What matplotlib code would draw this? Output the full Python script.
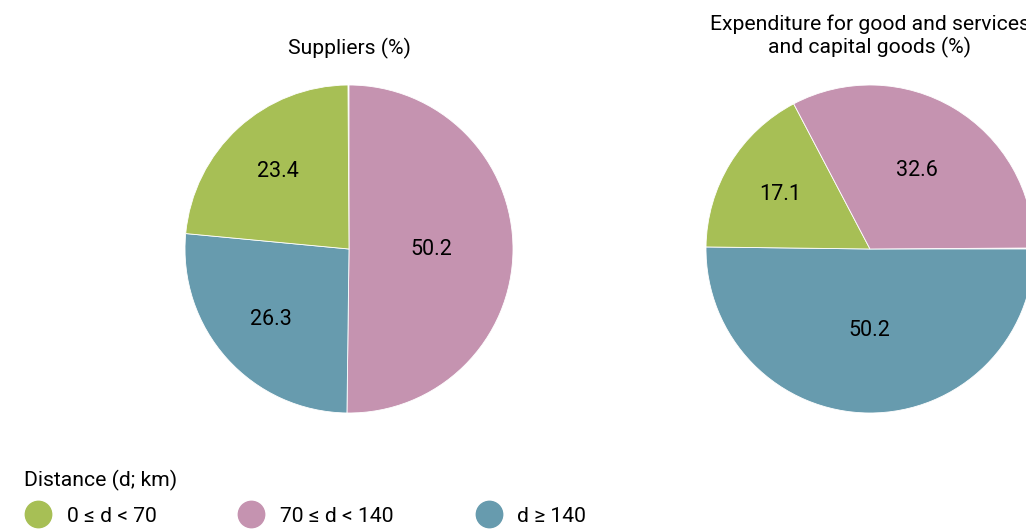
import matplotlib
matplotlib.use("Agg")
import numpy as np
import matplotlib.pyplot as plt
from matplotlib.lines import Line2D

plt.rcParams['font.family'] = ['Roboto', 'DejaVu Sans']

# data
categories = ['0 ≤ d < 70', '70 ≤ d < 140', 'd ≥ 140']
colors = ['#a7bf55', '#c593b0', '#679bae']
suppliers = [23.4, 50.2, 26.3]
expenditure = [17.1, 32.6, 50.2]
titles = ['Suppliers (%)', 'Expenditure for good and services\nand capital goods (%)']
legend_title = 'Distance (d; km)'

W, H = 1026, 530
fig = plt.figure(figsize=(W / 100, H / 100), dpi=100)
R = 164


def draw_pie(cx, cy, values, order, startangle):
    ax = fig.add_axes([(cx - R) / W, (H - cy - R) / H, 2 * R / W, 2 * R / H])
    vals = [values[i] for i in order]
    wedges, _ = ax.pie([v / 100 for v in vals], colors=[colors[i] for i in order],
                       startangle=startangle, counterclock=False, normalize=False,
                       wedgeprops=dict(edgecolor='white', linewidth=0.6))
    # value labels: smaller slices get their label further out
    for w, v in zip(wedges, vals):
        mid = np.deg2rad((w.theta1 + w.theta2) / 2)
        d = 0.64 if v < 30 else (0.56 if v < 45 else 0.5)
        ax.text(d * np.cos(mid), d * np.sin(mid), f'{v:.1f}', ha='center', va='center',
                fontsize=15.5, color='black')
    ax.set_xlim(-1, 1)
    ax.set_ylim(-1, 1)
    ax.axis('off')
    return ax


# left pie: pink from top clockwise, then blue, then green
draw_pie(349, 249, suppliers, [1, 2, 0], 90)
# right pie: blue from right clockwise, then green, then pink
draw_pie(870, 249, expenditure, [2, 0, 1], 0)

fig.text(349 / W, 1 - 48 / H, titles[0], ha='center', va='center', fontsize=15.2)
fig.text(870 / W, 1 - 36 / H, titles[1], ha='center', va='center', fontsize=15.2,
         linespacing=1.15)

handles = [Line2D([], [], marker='o', linestyle='none', markersize=19,
                  markerfacecolor=c, markeredgecolor=c) for c in colors]
fig.legend(handles, categories, title=legend_title, loc='lower left',
           bbox_to_anchor=(18 / W, -2 / H), ncol=3, frameon=False,
           fontsize=15.2, title_fontsize=15.2, alignment='left',
           handlelength=1.3, handletextpad=0.7, columnspacing=3.85,
           labelspacing=0.75, borderaxespad=0.1, borderpad=0.2)

fig.savefig('out.png', dpi=100)
